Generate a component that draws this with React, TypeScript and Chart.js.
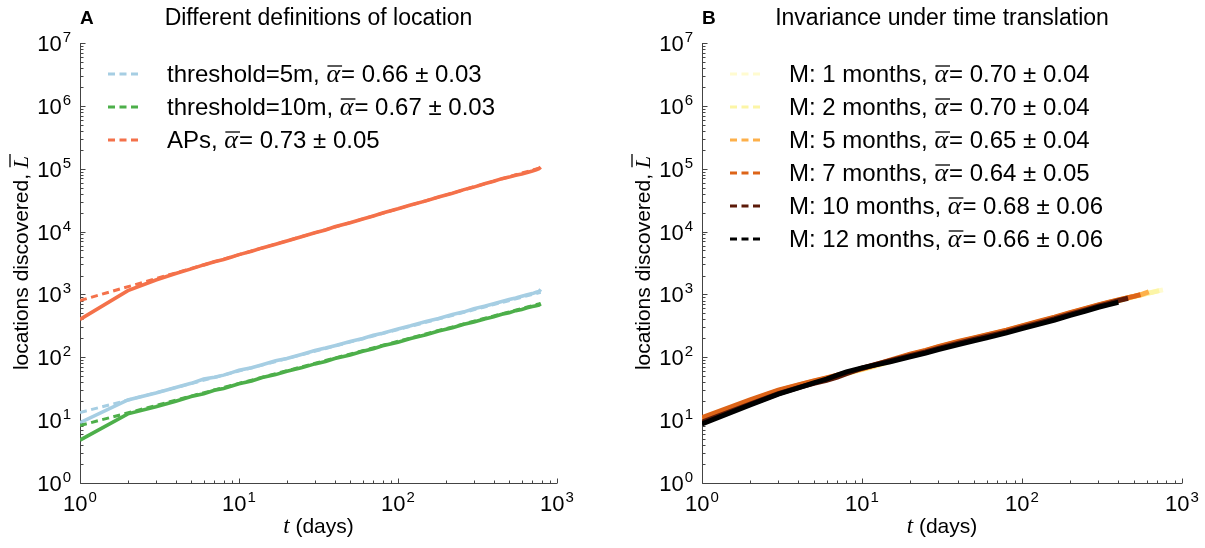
import React, { useEffect, useRef } from "react";
import { Chart, registerables } from "chart.js";

Chart.register(...registerables);

// ---------- Panel A: different definitions of location ----------
const daysA = [1, 2, 3, 4, 5, 6, 7, 8, 9, 10, 12, 14, 17, 20, 25, 30, 35, 40, 50, 60, 70, 80, 100, 120, 150, 180, 220, 260, 300, 350, 400, 450, 500, 550, 600, 650, 700, 740, 770, 790];
const threshold5m = [9.1, 21, 27, 33, 38.5, 45, 48, 52, 57, 62, 68, 76, 88, 96, 112, 128, 140, 153, 179, 199, 224, 241, 283, 318, 372, 414, 480, 528, 590, 650, 712, 770, 830, 880, 935, 985, 1030, 1080, 1110, 1200];
const threshold10m = [4.8, 12.6, 16.3, 20, 23.8, 26.2, 29.8, 31.8, 35, 37.8, 42, 47.5, 53, 60, 68.5, 78.5, 86, 95.5, 109, 125, 137, 152, 174, 199, 228, 262, 296, 334, 363, 408, 440, 482, 512, 552, 578, 612, 640, 660, 675, 710];
const accessPoints = [400, 1150, 1700, 2150, 2550, 2950, 3300, 3600, 3950, 4300, 4850, 5500, 6300, 7100, 8350, 9600, 10600, 11900, 13800, 15900, 17700, 19700, 23000, 26400, 30800, 35600, 40800, 46500, 51000, 57800, 63000, 69500, 73500, 78500, 82500, 87000, 92000, 96500, 100000, 106000];

// power-law fits (straight lines in log-log): value at first and last day
const fitDaysA = [1, 790];
const fit5m = [13.2, 1080];
const fit10m = [8.2, 717];
const fitAPs = [800, 104000];

const labelsA = ["threshold=5m, ", "threshold=10m, ", "APs, "];
const alphaA = ["0.66", "0.67", "0.73"];
const errA = ["0.03", "0.03", "0.05"];

// ---------- Panel B: invariance under time translation ----------
const daysB = [1, 2, 3, 4, 5, 6, 7, 8, 10, 12, 15, 20, 25, 30, 40, 50, 60, 80, 100, 130, 160, 200, 250, 300, 350, 400, 460, 500, 550, 620, 660, 720, 760];
const month1 = [10, 19.8, 28.5, 35, 40.5, 45.5, 50.5, 55.5, 64.5, 73, 86, 107, 124, 143, 173, 199, 221, 264, 309, 369, 425, 503, 588, 668, 745, 812, 885, 932, 985, 1060, 1100, 1150, 1180];
const month2 = [9.8, 19.5, 28, 34.5, 40, 45, 50, 55, 64, 72, 85, 106, 123, 142, 172, 198, 220, 262, 307, 367, 422, 500, 585, 664, 740, 805, 878, 925, 978, 1050, 1090, 1150];
const month5 = [10.5, 20.5, 29.5, 36, 41.5, 46.5, 51.5, 56.5, 65, 74, 88, 110, 127, 146, 176, 202, 224, 267, 312, 373, 429, 508, 594, 672, 748, 812, 885, 930, 985, 1100];
const month7 = [11, 21, 30, 36.5, 42, 47, 52, 57, 66, 76, 90, 112, 129, 148, 178, 204, 227, 270, 316, 378, 434, 515, 600, 680, 755, 820, 890, 930, 990];
const month10 = [9.3, 18, 26.5, 33, 38.5, 43, 48.5, 55, 67, 76, 88, 106, 122, 139, 167, 192, 214, 254, 298, 355, 410, 486, 568, 648, 722, 795, 870];
const month12 = [8.7, 17.5, 26, 32.5, 39, 45, 52, 58.5, 68, 75, 85, 102, 117, 133, 160, 183, 204, 244, 286, 340, 392, 465, 545, 625, 690, 750];

// fits drawn from day 10 to the last day of each series
const fitStartB = 10;
const fitB = [
  [65, 1170],
  [64, 1140],
  [66, 1090],
  [67, 985],
  [66, 860],
  [67, 748],
];
const monthsB = [1, 2, 5, 7, 10, 12];
const alphaB = ["0.70", "0.70", "0.65", "0.64", "0.68", "0.66"];
const errB = ["0.04", "0.04", "0.04", "0.05", "0.06", "0.06"];

// axis decades
const xTickExps = [0, 1, 2, 3];
const yTickExps = [0, 1, 2, 3, 4, 5, 6, 7];

// ---------- styling ----------
const COLORS_A = ["#a6cee3", "#4daf4a", "#f4714a"];
const COLORS_B = ["#fffbd0", "#fcf5a6", "#fdb04a", "#dd6418", "#5c1a08", "#000000"];
const AXIS = "#444444";
const SANS = '"Liberation Sans", Arial, Helvetica, sans-serif';
const SERIF = '"Liberation Serif", "Times New Roman", serif';

const PLOT_LEFT = 80;
const PLOT_TOP = 43;
const PLOT_BOTTOM = 483;
const H = 548;

const pts = (days: number[], vals: number[]) => vals.map((v, i) => ({ x: days[i], y: v }));

function drawAxes(chart: any) {
  const { ctx, chartArea: ca, scales } = chart;
  const xs = scales.x;
  const ys = scales.y;
  ctx.save();
  ctx.strokeStyle = AXIS;
  ctx.lineWidth = 1;
  ctx.setLineDash([]);
  const ax = Math.round(ca.left) + 0.5;
  const ay = Math.round(ca.bottom) + 0.5;
  ctx.beginPath();
  ctx.moveTo(ax, ca.top);
  ctx.lineTo(ax, ay);
  ctx.lineTo(ca.right, ay);
  ctx.stroke();
  ctx.beginPath();
  const yMax = yTickExps[yTickExps.length - 1];
  yTickExps.forEach((e) => {
    for (let m = 1; m <= 9; m++) {
      if (e === yMax && m > 1) break;
      const py = Math.round(ys.getPixelForValue(m * Math.pow(10, e))) + 0.5;
      const len = m === 1 ? 5 : 3;
      ctx.moveTo(ax, py);
      ctx.lineTo(ax + len, py);
    }
  });
  const xMax = xTickExps[xTickExps.length - 1];
  xTickExps.forEach((e) => {
    for (let m = 1; m <= 9; m++) {
      if (e === xMax && m > 1) break;
      const px = Math.round(xs.getPixelForValue(m * Math.pow(10, e))) + 0.5;
      const len = m === 1 ? 5 : 3;
      ctx.moveTo(px, ay);
      ctx.lineTo(px, ay - len);
    }
  });
  ctx.stroke();
  ctx.restore();
}

function powerLabel(ctx: any, exp: number, x: number, base: number, align: "center" | "right") {
  ctx.font = `22px ${SANS}`;
  const w1 = ctx.measureText("10").width;
  ctx.font = `15px ${SANS}`;
  const w2 = ctx.measureText(String(exp)).width;
  const total = w1 + w2 + 1;
  const sx = align === "center" ? x - total / 2 : x - total;
  ctx.font = `22px ${SANS}`;
  ctx.fillText("10", sx, base);
  ctx.font = `15px ${SANS}`;
  ctx.fillText(String(exp), sx + w1 + 1, base - 9);
}

function barGlyph(ctx: any, glyph: string, x: number, base: number, size: number, lift: number) {
  ctx.font = `italic ${size}px ${SERIF}`;
  const w = ctx.measureText(glyph).width;
  ctx.fillText(glyph, x, base);
  ctx.save();
  ctx.strokeStyle = "#000";
  ctx.lineWidth = 1.3;
  ctx.beginPath();
  ctx.moveTo(x + 1, base - lift);
  ctx.lineTo(x + w + 2, base - lift);
  ctx.stroke();
  ctx.restore();
  return w;
}

function drawText(chart: any, spec: any) {
  const { ctx, chartArea: ca, scales } = chart;
  ctx.save();
  ctx.fillStyle = "#000";
  ctx.textAlign = "left";
  ctx.textBaseline = "alphabetic";

  // tick labels
  xTickExps.forEach((e) => powerLabel(ctx, e, scales.x.getPixelForValue(Math.pow(10, e)), 511, "center"));
  yTickExps.forEach((e) => powerLabel(ctx, e, ca.left - 9, scales.y.getPixelForValue(Math.pow(10, e)) + 8, "right"));

  // panel letter and title
  ctx.font = `bold 19px ${SANS}`;
  ctx.fillText(spec.letter, ca.left, 24);
  ctx.font = `23px ${SANS}`;
  const tw = ctx.measureText(spec.title).width;
  ctx.fillText(spec.title, (ca.left + ca.right) / 2 - tw / 2, 25);

  // x axis title
  ctx.font = `italic 23px ${SERIF}`;
  const wt = ctx.measureText("t").width;
  ctx.font = `21px ${SANS}`;
  const wd = ctx.measureText(" (days)").width;
  const cx = (ca.left + ca.right) / 2 - (wt + wd) / 2;
  ctx.font = `italic 23px ${SERIF}`;
  ctx.fillText("t", cx, 533);
  ctx.font = `21px ${SANS}`;
  ctx.fillText(" (days)", cx + wt, 533);

  // y axis title
  ctx.save();
  ctx.translate(28, (ca.top + ca.bottom) / 2);
  ctx.rotate(-Math.PI / 2);
  const s1 = "locations discovered, ";
  ctx.font = `21px ${SANS}`;
  const w1 = ctx.measureText(s1).width;
  ctx.font = `italic 22px ${SERIF}`;
  const wl = ctx.measureText("L").width;
  const sx = -(w1 + wl) / 2;
  ctx.font = `21px ${SANS}`;
  ctx.fillText(s1, sx, 0);
  barGlyph(ctx, "L", sx + w1, 0, 22, 18);
  ctx.restore();

  // legend
  spec.legend.forEach((row: any, i: number) => {
    const y = 74 + i * 33;
    ctx.save();
    ctx.strokeStyle = row.color;
    ctx.lineWidth = 3;
    ctx.setLineDash([7, 4.5]);
    ctx.beginPath();
    ctx.moveTo(ca.left + 28, y);
    ctx.lineTo(ca.left + 58, y);
    ctx.stroke();
    ctx.restore();
    const base = y + 8;
    let tx = ca.left + 87;
    ctx.font = `24px ${SANS}`;
    ctx.fillText(row.prefix, tx, base);
    tx += ctx.measureText(row.prefix).width;
    tx += barGlyph(ctx, "\u03b1", tx, base, 26, 16) + 1;
    ctx.font = `24px ${SANS}`;
    ctx.fillText(`= ${row.alpha} \u00b1 ${row.err}`, tx, base);
  });
  ctx.restore();
}

function makeConfig(width: number, right: number, datasets: any[], spec: any) {
  return {
    type: "line" as const,
    data: { datasets },
    options: {
      responsive: false,
      animation: false as const,
      devicePixelRatio: 1,
      events: [] as any[],
      layout: { padding: { left: PLOT_LEFT, right: width - right, top: PLOT_TOP, bottom: H - PLOT_BOTTOM } },
      elements: { point: { radius: 0 }, line: { tension: 0 } },
      scales: {
        x: { type: "logarithmic" as const, min: 1, max: 1000, display: false },
        y: { type: "logarithmic" as const, min: 1, max: 1e7, display: false },
      },
      plugins: { legend: { display: false }, tooltip: { enabled: false } },
    },
    plugins: [
      {
        id: "decor" + spec.letter,
        beforeDatasetsDraw(chart: any) {
          drawAxes(chart);
        },
        afterDraw(chart: any) {
          drawText(chart, spec);
        },
      },
    ],
  };
}

const WIDTH_A = 622;
const WIDTH_B = 583;

function buildA() {
  const series = [threshold5m, threshold10m, accessPoints];
  const fits = [fit5m, fit10m, fitAPs];
  const datasets: any[] = [];
  series.forEach((vals, i) => {
    datasets.push({
      data: pts(fitDaysA, fits[i]),
      borderColor: COLORS_A[i],
      borderWidth: 3,
      borderDash: [7, 4.5],
      pointRadius: 0,
      order: i,
    });
    datasets.push({
      data: pts(daysA, vals),
      borderColor: COLORS_A[i],
      borderWidth: 3.6,
      pointRadius: 0,
      order: 10 + i,
    });
  });
  const legend = labelsA.map((p, i) => ({ color: COLORS_A[i], prefix: p, alpha: alphaA[i], err: errA[i] }));
  return makeConfig(WIDTH_A, 557, datasets, { letter: "A", title: "Different definitions of location", legend });
}

function buildB() {
  const series = [month1, month2, month5, month7, month10, month12];
  const datasets: any[] = [];
  series.forEach((vals, i) => {
    const lastDay = daysB[vals.length - 1];
    datasets.push({
      data: pts([fitStartB, lastDay], fitB[i]),
      borderColor: COLORS_B[i],
      borderWidth: 3,
      borderDash: [7, 4.5],
      pointRadius: 0,
      order: 20 + (5 - i),
    });
    datasets.push({
      data: pts(daysB, vals),
      borderColor: COLORS_B[i],
      borderWidth: 5,
      pointRadius: 0,
      order: 5 - i,
    });
  });
  const legend = monthsB.map((m, i) => ({
    color: COLORS_B[i],
    prefix: `M: ${m} months, `,
    alpha: alphaB[i],
    err: errB[i],
  }));
  return makeConfig(WIDTH_B, 560, datasets, { letter: "B", title: "Invariance under time translation", legend });
}

export default function App() {
  const refA = useRef<HTMLCanvasElement>(null);
  const refB = useRef<HTMLCanvasElement>(null);
  useEffect(() => {
    document.body.style.margin = "0";
    const a = new Chart(refA.current as HTMLCanvasElement, buildA() as any);
    const b = new Chart(refB.current as HTMLCanvasElement, buildB() as any);
    return () => {
      a.destroy();
      b.destroy();
    };
  }, []);
  return (
    <div style={{ position: "relative", width: 1205, height: H, background: "#fff" }}>
      <canvas ref={refA} width={WIDTH_A} height={H} style={{ position: "absolute", left: 0, top: 0 }} />
      <canvas ref={refB} width={WIDTH_B} height={H} style={{ position: "absolute", left: WIDTH_A, top: 0 }} />
    </div>
  );
}
